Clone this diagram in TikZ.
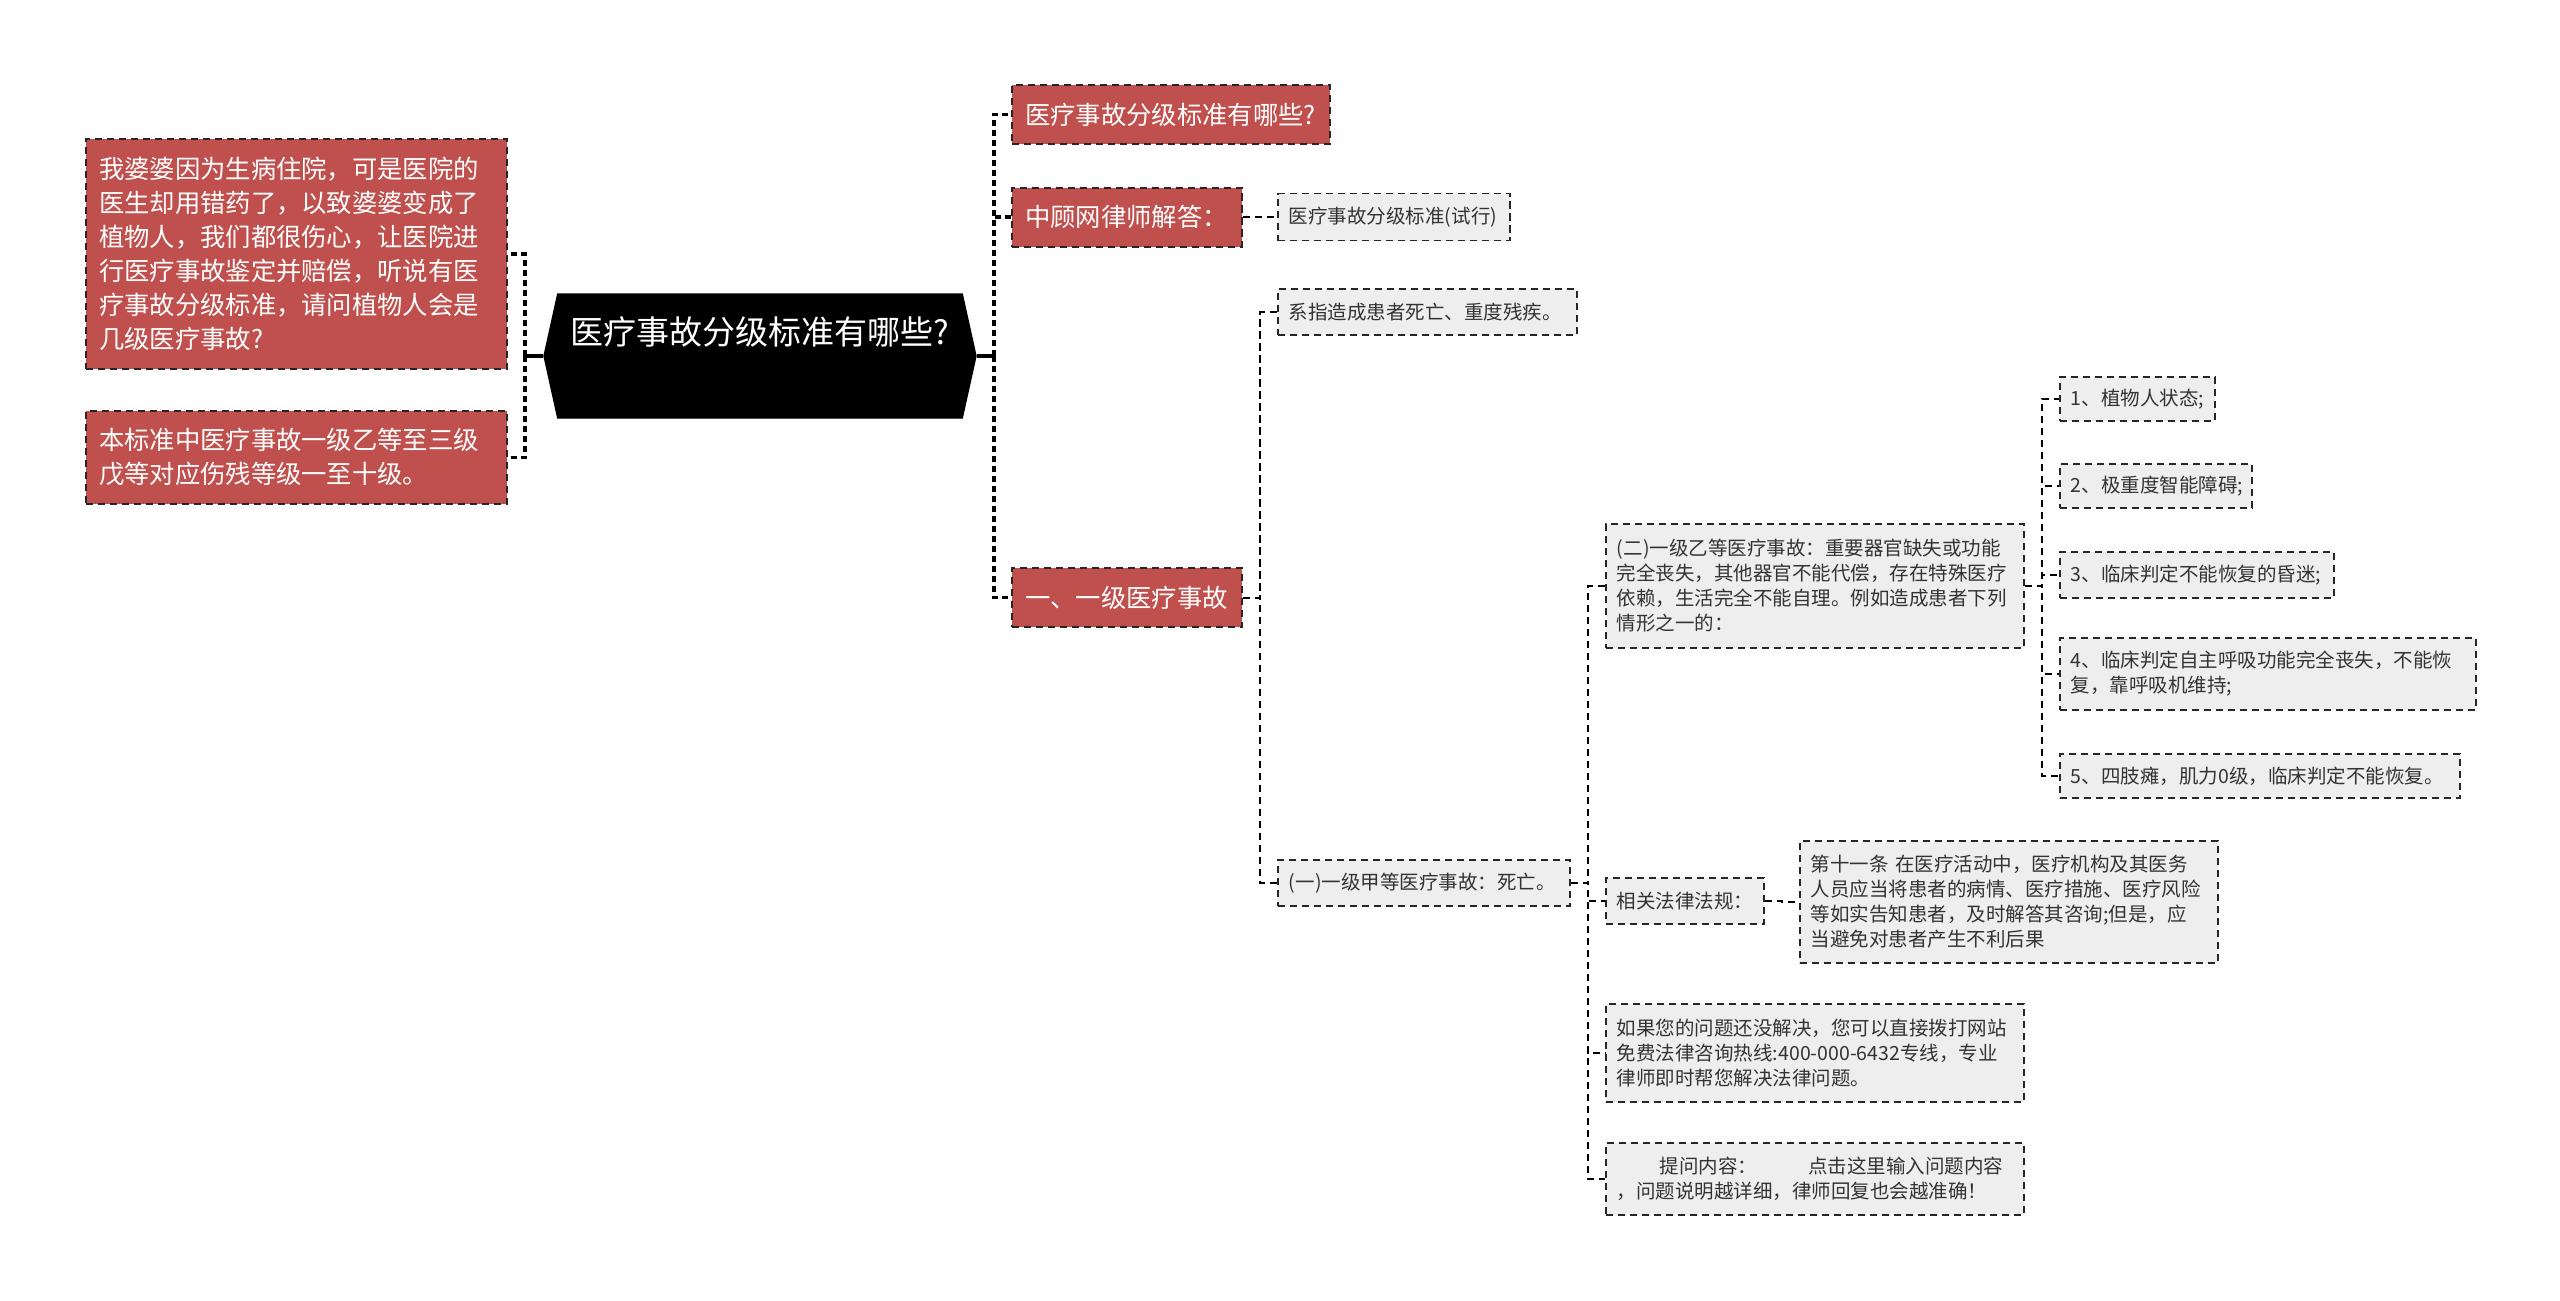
\documentclass[tikz,border=0pt]{standalone}
\usepackage{fontspec}
\usepackage{tikz}
\usetikzlibrary{shapes.symbols}
\newfontfamily\cjk{Noto Sans CJK SC}
\definecolor{boxred}{HTML}{C0504D}
\definecolor{boxgray}{HTML}{EEEEEE}
\definecolor{inkgray}{HTML}{333333}
\newlength{\pxu}
\setlength{\pxu}{0.3pt}
\tikzset{redbox/.style={rectangle, draw=black!85, line width=0.6pt, dash pattern=on 2.2pt off 1.4pt, fill=boxred, text=white, font=\cjk\fontsize{7.6pt}{10.2pt}\selectfont, inner xsep=13\pxu, inner ysep=0pt, align=left, anchor=west}}
\tikzset{graybox/.style={rectangle, draw=black!85, line width=0.55pt, dash pattern=on 2.2pt off 1.4pt, fill=boxgray, text=inkgray, font=\cjk\fontsize{5.85pt}{7.5pt}\selectfont, inner xsep=11\pxu, inner ysep=0pt, align=left, anchor=west}}
\tikzset{hexa/.style={signal, signal to=east and west, signal pointer angle=155, fill=black, draw=black, text=white, font=\cjk\fontsize{9.9pt}{12pt}\selectfont, minimum width=432\pxu, minimum height=124\pxu, inner sep=0pt}}
\tikzset{mainlink/.style={draw=black, line width=1.1pt, dash pattern=on 1.8pt off 1.2pt}}
\tikzset{sublink/.style={draw=black, line width=0.6pt, dash pattern=on 2.2pt off 1.4pt}}

\begin{document}
\begin{tikzpicture}[x=0.3pt,y=-0.3pt]
  \useasboundingbox[fill=white] (0,0) rectangle (2560,1300);

  \node[hexa, text depth=15pt] (title) at (760,356) {医疗事故分级标准有哪些?};

  % left side
  \node[redbox, text width=395\pxu, minimum height=230\pxu] (story) at (85,254) {我婆婆因为生病住院，可是医院的\\医生却用错药了，以致婆婆变成了\\植物人，我们都很伤心，让医院进\\行医疗事故鉴定并赔偿，听说有医\\疗事故分级标准，请问植物人会是\\几级医疗事故?};
  \node[redbox, text width=395\pxu, minimum height=93\pxu] (note) at (85,457.5) {本标准中医疗事故一级乙等至三级\\戊等对应伤残等级一至十级。};

  % right side
  \node[redbox, text width=292\pxu, minimum height=59\pxu] (ask) at (1011,114.5) {医疗事故分级标准有哪些?};
  \node[redbox, text width=204\pxu, minimum height=59\pxu] (lawyer) at (1011,217) {中顾网律师解答：};
  \node[redbox, text width=204\pxu, minimum height=59\pxu] (grade) at (1011,597.5) {一、一级医疗事故};

  \node[graybox, text width=210\pxu, minimum height=47\pxu] (trial) at (1277,217) {医疗事故分级标准(试行)};
  \node[graybox, text width=277\pxu, minimum height=46\pxu] (cause) at (1277,312) {系指造成患者死亡、重度残疾。};
  \node[graybox, text width=270\pxu, minimum height=46\pxu] (first) at (1277,883) {(一)一级甲等医疗事故：死亡。};

  \node[graybox, text width=396\pxu, minimum height=124\pxu] (second) at (1605,586) {(二)一级乙等医疗事故：重要器官缺失或功能\\完全丧失，其他器官不能代偿，存在特殊医疗\\依赖，生活完全不能自理。例如造成患者下列\\情形之一的：};
  \node[graybox, text width=136\pxu, minimum height=46\pxu] (laws) at (1605,901) {相关法律法规：};
  \node[graybox, text width=396\pxu, minimum height=122\pxu] (article) at (1799,902) {第十一条 在医疗活动中，医疗机构及其医务\\人员应当将患者的病情、医疗措施、医疗风险\\等如实告知患者，及时解答其咨询;但是，应\\当避免对患者产生不利后果};
  \node[graybox, text width=396\pxu, minimum height=98\pxu] (hotline) at (1605,1053) {如果您的问题还没解决，您可以直接拨打网站\\免费法律咨询热线:400-000-6432专线，专业\\律师即时帮您解决法律问题。};
  \node[graybox, text width=396\pxu, minimum height=72\pxu] (askbox) at (1605,1179) {\hspace*{2.2em}提问内容：\hspace{2.6em}点击这里输入问题内容\\，问题说明越详细，律师回复也会越准确！};

  \node[graybox, text width=133\pxu, minimum height=44\pxu] (item1) at (2059,399) {1、植物人状态;};
  \node[graybox, text width=170\pxu, minimum height=44\pxu] (item2) at (2059,486) {2、极重度智能障碍;};
  \node[graybox, text width=252\pxu, minimum height=46\pxu] (item3) at (2059,575) {3、临床判定不能恢复的昏迷;};
  \node[graybox, text width=394\pxu, minimum height=72\pxu] (item4) at (2059,674) {4、临床判定自主呼吸功能完全丧失，不能恢\\复，靠呼吸机维持;};
  \node[graybox, text width=378\pxu, minimum height=44\pxu] (item5) at (2059,776) {5、四肢瘫，肌力0级，临床判定不能恢复。};

  % connectors
  \draw[line width=1.1pt] (title.west) -- ++(-18,0) coordinate (lj);
  \draw[line width=1.1pt] (title.east) -- ++(17,0) coordinate (rj);
  \foreach \v in {story, note} {
    \draw[mainlink] (lj) |- (\v.east);
  }
  \foreach \v in {ask, lawyer, grade} {
    \draw[mainlink] (rj) |- (\v.west);
  }
  \foreach \u/\v in {
    lawyer/trial,
    grade/cause,
    grade/first,
    first/second,
    first/laws,
    first/hotline,
    first/askbox,
    laws/article,
    second/item1,
    second/item2,
    second/item3,
    second/item4,
    second/item5%
  } {
    \draw[sublink] (\u.east) -- ++(17,0) |- (\v.west);
  }
\end{tikzpicture}
\end{document}
